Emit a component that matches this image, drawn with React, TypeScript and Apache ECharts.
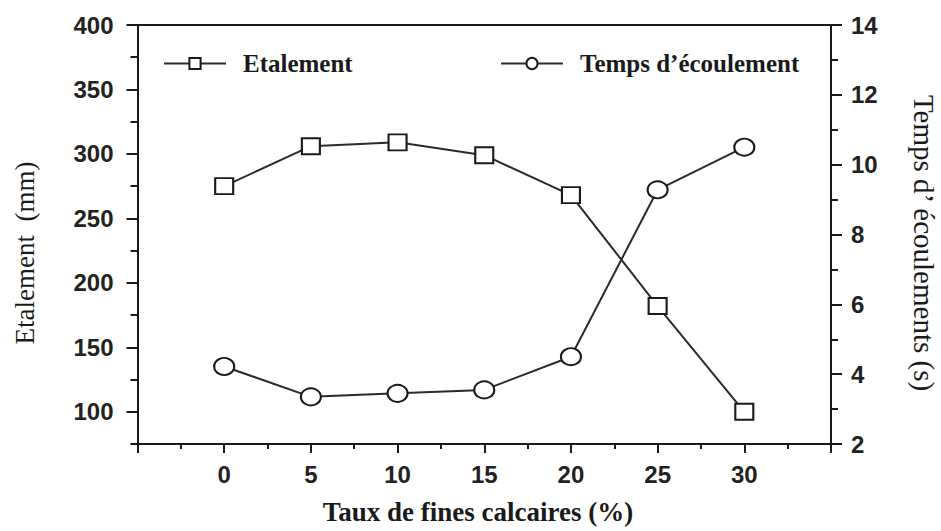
import React, { useEffect, useRef } from "react";
import * as echarts from "echarts";

// Fine limestone content (%) on the x axis
const xValues = [0, 5, 10, 15, 20, 25, 30];
// Slump flow spread (mm), left axis
const etalement = [275, 306, 309, 299, 268, 182, 100];
// Flow time (s), right axis
const tempsEcoulement = [4.22, 3.35, 3.45, 3.55, 4.5, 9.28, 10.5];
// Labelled ticks of the left axis
const leftMajorTicks = [100, 150, 200, 250, 300, 350, 400];

const INK = "#1a1a1a";
const SANS = "Liberation Sans, Arial, sans-serif";
const SERIF = "Liberation Serif, Times New Roman, serif";

export default function App() {
  const ref = useRef<HTMLDivElement>(null);

  useEffect(() => {
    if (!ref.current) return;
    const chart = echarts.init(ref.current, undefined, { renderer: "svg" });

    const axisLine = { show: true, onZero: false, lineStyle: { color: INK, width: 2 } };
    const tickLabel = { color: "#222", fontFamily: SANS, fontSize: 24, fontWeight: "bold" };
    const legendText = {
      color: INK,
      fontFamily: SERIF,
      fontSize: 25,
      fontWeight: "bold",
      padding: [0, 0, 0, 12],
    };

    chart.setOption({
      animation: false,
      backgroundColor: "#ffffff",
      grid: { left: 137.5, right: 110, top: 25, bottom: 87, containLabel: false },
      legend: [
        {
          data: ["Etalement"],
          left: 158,
          top: 46,
          itemWidth: 62,
          itemHeight: 14,
          textStyle: legendText,
        },
        {
          data: ["Temps d’écoulement"],
          left: 495,
          top: 46,
          itemWidth: 62,
          itemHeight: 14,
          textStyle: legendText,
        },
      ],
      xAxis: [
        {
          type: "value",
          min: -5,
          max: 35,
          interval: 5,
          axisLine,
          axisTick: { show: true, inside: false, length: 9, lineStyle: { color: INK, width: 2 } },
          minorTick: { show: true, splitNumber: 2, length: 5, lineStyle: { color: INK, width: 2 } },
          splitLine: { show: false },
          axisLabel: {
            ...tickLabel,
            margin: 18,
            formatter: (v: number) => (v < 0 || v > 30 ? "" : String(v)),
          },
        },
        {
          type: "value",
          position: "top",
          min: -5,
          max: 35,
          axisLine,
          axisTick: { show: false },
          axisLabel: { show: false },
          splitLine: { show: false },
        },
      ],
      yAxis: [
        {
          type: "value",
          position: "left",
          min: 75,
          max: 400,
          interval: 25,
          axisLine,
          axisTick: { show: true, length: 7, lineStyle: { color: INK, width: 2 } },
          splitLine: { show: false },
          axisLabel: {
            ...tickLabel,
            margin: 24,
            formatter: (v: number) => (v % 50 === 0 ? String(v) : ""),
          },
        },
        {
          type: "value",
          position: "right",
          min: 2,
          max: 14,
          interval: 2,
          axisLine,
          axisTick: { show: true, length: 11, lineStyle: { color: INK, width: 2 } },
          minorTick: { show: true, splitNumber: 2, length: 7, lineStyle: { color: INK, width: 2 } },
          splitLine: { show: false },
          axisLabel: { ...tickLabel, margin: 20 },
        },
        {
          // long ticks at the labelled values of the left axis
          type: "value",
          position: "left",
          offset: 0,
          min: 75,
          max: 400,
          axisLine: { show: false, onZero: false },
          axisTick: {
            show: true,
            length: 11,
            customValues: leftMajorTicks,
            lineStyle: { color: INK, width: 2 },
          },
          axisLabel: { show: false },
          splitLine: { show: false },
        },
      ],
      series: [
        {
          name: "Etalement",
          type: "line",
          xAxisIndex: 0,
          yAxisIndex: 0,
          data: xValues.map((x, i) => [x, etalement[i]]),
          symbol: "rect",
          symbolSize: [18, 16],
          showAllSymbol: true,
          itemStyle: { color: "#ffffff", borderColor: INK, borderWidth: 2 },
          lineStyle: { color: "#2a2a2a", width: 2 },
          z: 3,
        },
        {
          name: "Temps d’écoulement",
          type: "line",
          xAxisIndex: 0,
          yAxisIndex: 1,
          data: xValues.map((x, i) => [x, tempsEcoulement[i]]),
          symbol: "circle",
          symbolSize: [20, 17],
          showAllSymbol: true,
          itemStyle: { color: "#ffffff", borderColor: INK, borderWidth: 2 },
          lineStyle: { color: "#2a2a2a", width: 2 },
          z: 3,
        },
      ],
      graphic: [
        {
          type: "text",
          x: 25,
          y: 253,
          rotation: Math.PI / 2,
          style: {
            text: "Etalement  (mm)",
            font: `27px ${SERIF}`,
            fill: INK,
            textAlign: "center",
            textVerticalAlign: "middle",
            align: "center",
            verticalAlign: "middle",
          },
        },
        {
          type: "text",
          x: 924,
          y: 243,
          rotation: -Math.PI / 2,
          style: {
            text: "Temps d’ écoulements (s)",
            font: `29px ${SERIF}`,
            fill: INK,
            textAlign: "center",
            textVerticalAlign: "middle",
            align: "center",
            verticalAlign: "middle",
          },
        },
        {
          type: "text",
          x: 478,
          y: 512,
          style: {
            text: "Taux de fines calcaires (%)",
            font: `bold 27px ${SERIF}`,
            fill: INK,
            textAlign: "center",
            textVerticalAlign: "middle",
            align: "center",
            verticalAlign: "middle",
          },
        },
      ],
    });

    return () => chart.dispose();
  }, []);

  return (
    <div
      ref={ref}
      style={{ position: "absolute", left: 0, top: 0, width: 941, height: 531 }}
    />
  );
}
